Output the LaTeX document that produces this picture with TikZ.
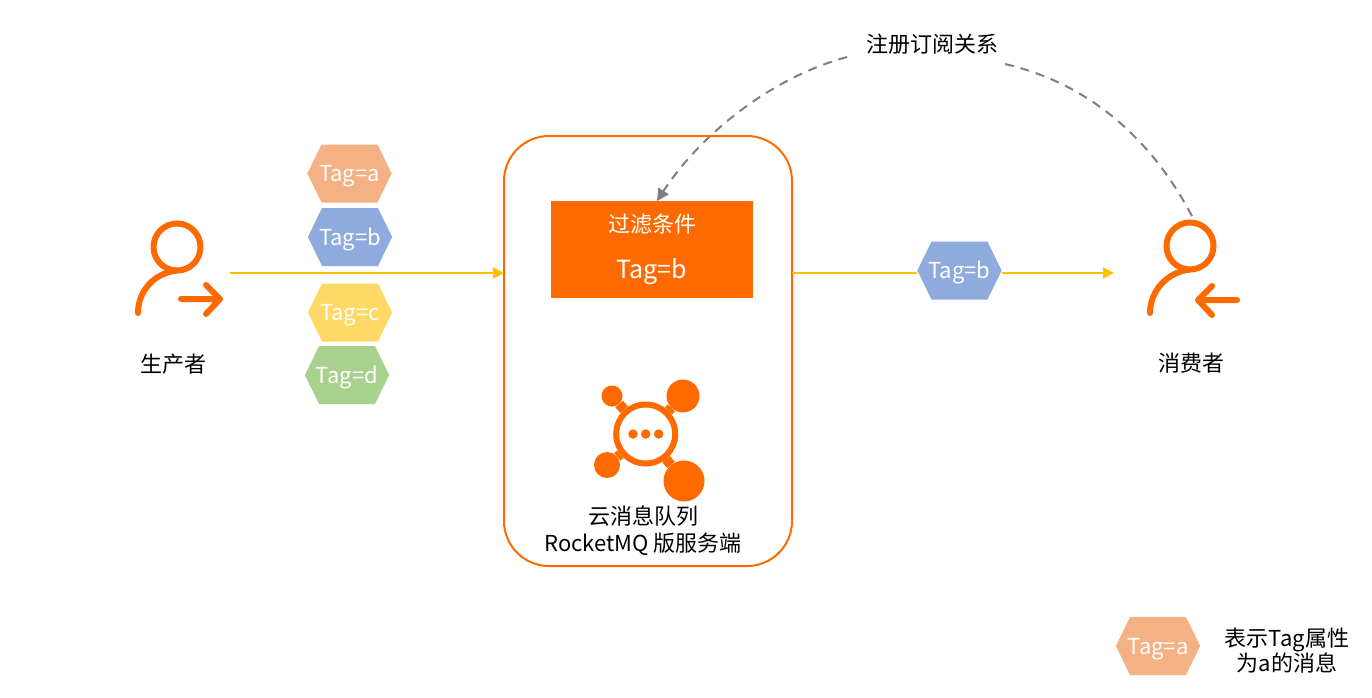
\documentclass[tikz,border=0pt]{standalone}
\usepackage{fontspec}
\setmainfont{Noto Sans CJK SC}
\usetikzlibrary{positioning,arrows.meta,shapes.symbols}
\definecolor{aliorange}{HTML}{FF6A00}
\definecolor{linkyellow}{HTML}{FFC000}
\definecolor{dashgray}{HTML}{7F7F7F}
\definecolor{tagpeach}{HTML}{F4B183}
\definecolor{tagblue}{HTML}{8FAADC}
\definecolor{tagyellow}{HTML}{FFD966}
\definecolor{taggreen}{HTML}{A9D18E}
\newcommand{\Txt}{\fontsize{22}{26}\selectfont}
\newcommand{\Tag}[1]{\makebox[56pt]{Tag=#1}}
\begin{document}
\begin{tikzpicture}[x=1pt,y=-1pt,
    tag/.style={signal,signal to=east and west,signal pointer angle=128,inner sep=0pt,outer sep=0pt,
      minimum width=83pt,minimum height=58pt,text=white,font=\Txt,text height=18pt,text depth=2pt},
    caption/.style={inner sep=0pt,align=center,font=\Txt,text=black},
    flow/.style={draw=linkyellow,line width=2pt,-{Triangle[length=11pt,width=11pt]}},
    plainflow/.style={draw=linkyellow,line width=2pt},
    subscribe/.style={draw=dashgray,line width=2pt,dash pattern=on 9pt off 7pt},
    person/.style={draw=aliorange,line width=6pt,line cap=round,line join=round},
    hub/.style={circle,draw=aliorange,line width=6pt,inner sep=0pt,minimum size=59pt},
    ball/.style={circle,fill=aliorange,inner sep=0pt},
    link/.style={draw=aliorange,line width=10pt}]
        \useasboundingbox (0,0) rectangle (1372,697);

        % producer
        \node[person,circle,inner sep=0pt,outer sep=0pt,minimum size=47pt] (prod_head) at (177,247) {};
        \draw[person] (prod_head.south) .. controls (154,273) and (138,291) .. (138,313);
        \draw[person] (181,299) -- (220,299) (206,285) -- (220,299) -- (206,314);
        \node[caption] (prod_label) at (173,364) {生产者};

        % tags on the way in
        \node[tag,fill=tagpeach] (tag_a) at (349.5,173.5) {\Tag{a}};
        \node[tag,fill=tagblue] (tag_b) at (350,237) {\Tag{b}};
        \node[tag,fill=tagyellow] (tag_c) at (350,312.5) {\Tag{c}};
        \node[tag,fill=taggreen] (tag_d) at (347,375) {\Tag{d}};

        % server
        \node[draw=aliorange,line width=2pt,outer sep=0pt,rounded corners=45pt,minimum width=288pt,minimum height=430pt] (broker) at (648,351) {};
        \node[fill=aliorange,minimum width=202pt,minimum height=97pt] (filter) at (652,249.5) {};
        \node[caption,text=white] (filter_title) at (652,224) {过滤条件};
        \node[caption,text=white,font=\fontsize{25}{29}\selectfont] (filter_tag) at (652,271.5) {Tag=b};

        % server icon
        \node[hub] (hub) at (645.7,434) {};
        \node[ball,minimum size=21pt] (ball_tl) at (612,396) {};
        \node[ball,minimum size=33pt] (ball_tr) at (683,396) {};
        \node[ball,minimum size=26pt] (ball_bl) at (607,465) {};
        \node[ball,minimum size=41pt] (ball_br) at (684,481) {};
        \foreach \b in {ball_tl,ball_tr,ball_bl,ball_br}
          \draw[link] (hub) -- (\b);
        \foreach \x/\n in {633/dot_l,645.7/dot_m,658.7/dot_r}
          \node[ball,minimum size=9.5pt] (\n) at (\x,434) {};
        \node[caption] (broker_label) at (643,531) {云消息队列\\[1pt]RocketMQ 版服务端};

        % consumer
        \node[person,circle,inner sep=0pt,outer sep=0pt,minimum size=47pt] (cons_head) at (1190,246) {};
        \draw[person] (cons_head.south) .. controls (1167,272) and (1150,291) .. (1150,313);
        \draw[person] (1237,300) -- (1198,300) (1212,286) -- (1198,300) -- (1212,315);
        \node[caption] (cons_label) at (1191,363) {消费者};

        % flows
        \coordinate (in_start) at (230,273);
        \coordinate (out_start) at (792,273);
        \coordinate (out_end) at (1114,273);
        \node[tag,fill=tagblue] (tag_out) at (959.5,270.5) {\Tag{b}};
        \draw[flow] (in_start) -- (in_start -| broker.west);
        \draw[plainflow] (out_start) -- (out_start -| tag_out.west);
        \draw[flow] (out_start -| tag_out.east) -- (out_end);

        % subscription
        \node[caption] (sub_label) at (932.5,44) {注册订阅关系};
        \coordinate (sub_left) at (847,57);
        \coordinate (sub_right) at (1005,64);
        \coordinate (filter_in) at (657,201);
        \coordinate (cons_top) at (1193,218);
        \draw[subscribe,-{Triangle[length=12pt,width=12pt]}] (sub_left) .. controls (770,78) and (700,135) .. (filter_in);
        \draw[subscribe] (sub_right) .. controls (1095,85) and (1155,145) .. (cons_top);

        % legend
        \node[tag,fill=tagpeach] (tag_key) at (1158,646) {\Tag{a}};
        \node[caption] (key_label) at (1287,651) {表示Tag属性\\[-1pt]为a的消息};
\end{tikzpicture}
\end{document}
